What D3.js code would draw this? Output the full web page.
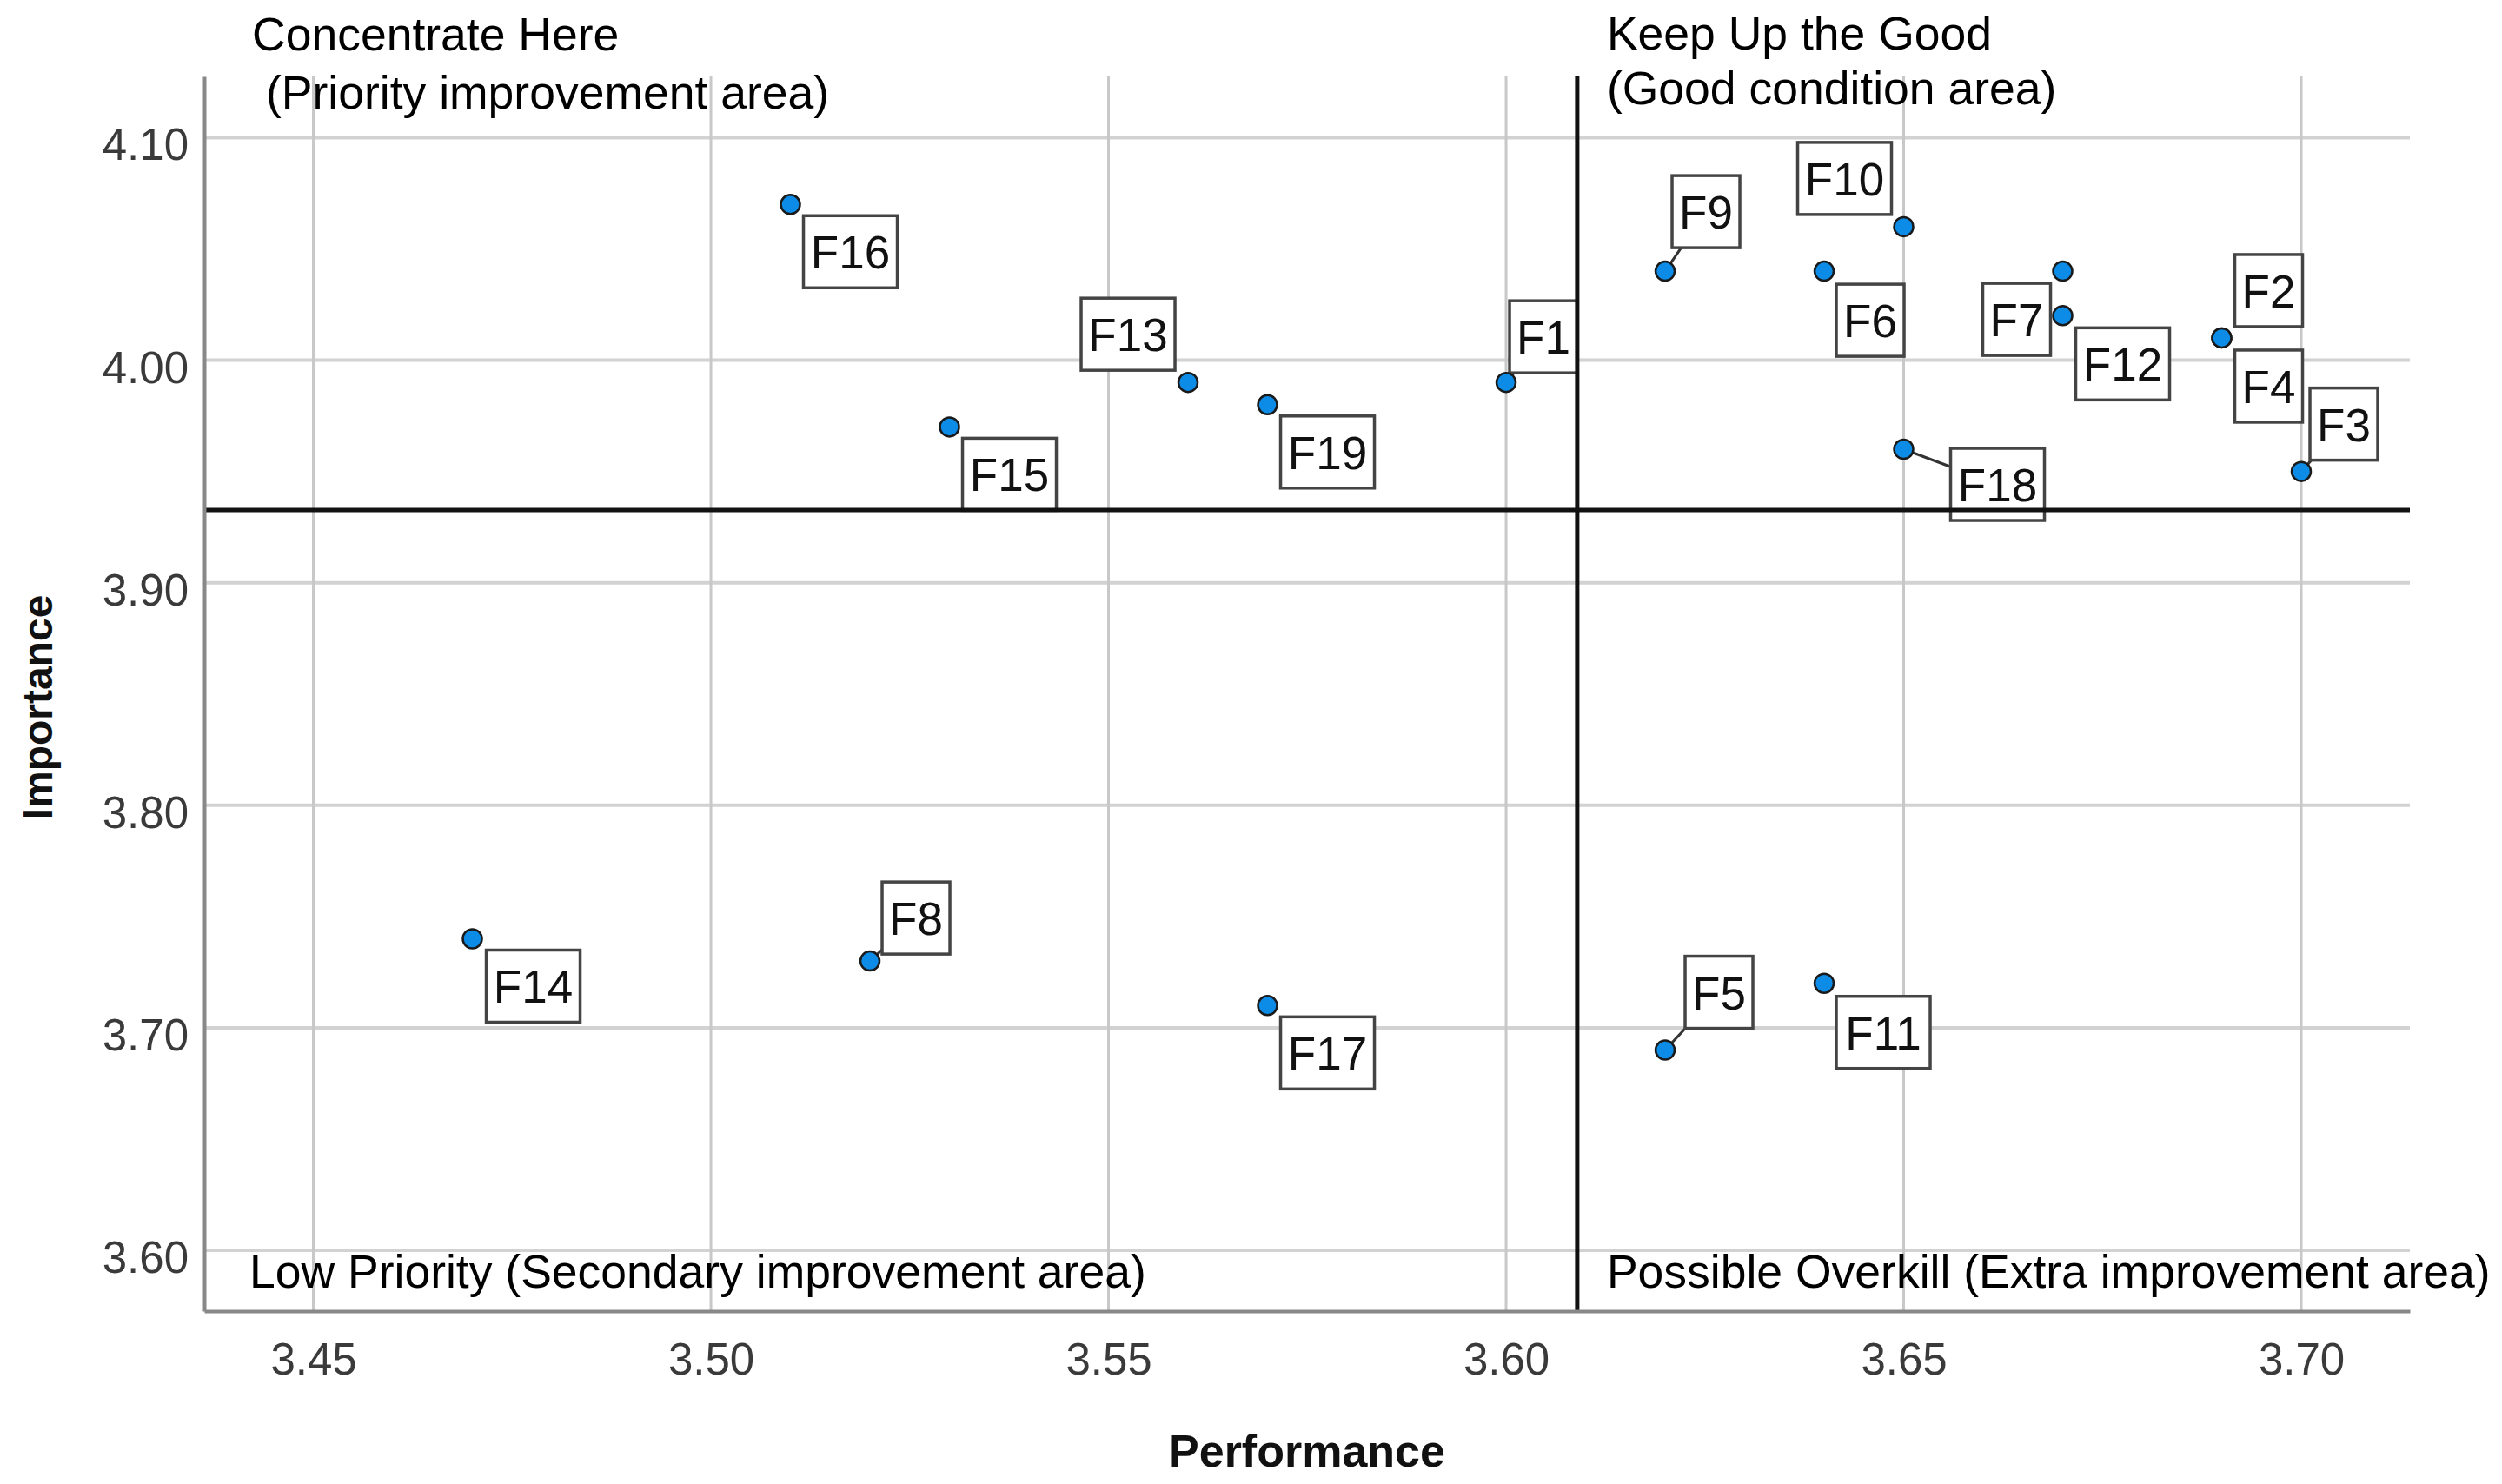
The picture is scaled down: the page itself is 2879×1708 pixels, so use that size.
<!DOCTYPE html>
<html>
<head>
<meta charset="utf-8">
<script src="https://cdn.jsdelivr.net/npm/d3@7"></script>
<style>
	body { margin: 0; background: #fff; }
	svg { display: block; font-family: "Liberation Sans", Arial, sans-serif; }
</style>
</head>
<body>
<div id="chart"></div>
<script>
// importance-performance quadrant chart

var names = ['F1','F2','F3','F4','F5','F6','F7','F8','F9','F10','F11','F12','F13','F14','F15','F16','F17','F18','F19'];
var performance = [3.60, 3.69, 3.70, 3.69, 3.62, 3.64, 3.67, 3.52, 3.62, 3.65, 3.64, 3.67, 3.56, 3.47, 3.53, 3.51, 3.57, 3.65, 3.57];
var importance  = [3.99, 4.01, 3.95, 4.01, 3.69, 4.04, 4.04, 3.73, 4.04, 4.06, 3.72, 4.02, 3.99, 3.74, 3.97, 4.07, 3.71, 3.96, 3.98];

var xTicks = [3.45, 3.50, 3.55, 3.60, 3.65, 3.70];
var yTicks = [3.60, 3.70, 3.80, 3.90, 4.00, 4.10];

var xTitle = 'Performance';
var yTitle = 'Importance';
var quadrantTopLeft = ['Concentrate Here', '(Priority improvement area)'];
var quadrantTopRight = ['Keep Up the Good', '(Good condition area)'];
var quadrantBottomLeft = 'Low Priority (Secondary improvement area)';
var quadrantBottomRight = 'Possible Overkill (Extra improvement area)';

// where each label box sits, relative to its point (px, top-left corner of box)
var labelPlacement = {
	F1: [4, -94, true], F2: [15, -96], F3: [10, -96, true], F4: [15, 14],
	F5: [23, -108, true], F6: [14, 15], F7: [-92, 14], F8: [14, -91, true],
	F9: [8, -110, true], F10: [-122, -97], F11: [14, 15], F12: [15, 14],
	F13: [-123, -97], F14: [16, 13], F15: [15, 13], F16: [15, 13],
	F17: [15, 13], F18: [54, -1, true], F19: [15, 13]
};

var width = 2879, height = 1708;
var plotLeft = 235, plotRight = 2773, plotTop = 88, plotBottom = 1509;
var fontSize = 51;
var captionSize = 53.5;

var x = d3.scaleLinear().domain([3.43628, 3.71366]).range([plotLeft, plotRight]);
var y = d3.scaleLinear().domain([3.5727, 4.1275]).range([plotBottom, plotTop]);

var points = names.map(function(n, i) { return { name: n, px: performance[i], py: importance[i] }; });
var meanX = d3.mean(performance);
var meanY = d3.mean(importance);

var svg = d3.select('#chart').append('svg')
	.attr('width', width)
	.attr('height', height);

// grid
svg.append('g').selectAll('line')
	.data(yTicks)
	.enter().append('line')
		.attr('x1', plotLeft).attr('x2', plotRight)
		.attr('y1', function(d) { return y(d); })
		.attr('y2', function(d) { return y(d); })
		.attr('stroke', '#d2d2d2')
		.attr('stroke-width', 4);
svg.append('g').selectAll('line')
	.data(xTicks)
	.enter().append('line')
		.attr('y1', plotTop).attr('y2', plotBottom)
		.attr('x1', function(d) { return x(d); })
		.attr('x2', function(d) { return x(d); })
		.attr('stroke', '#c8c8c8')
		.attr('stroke-width', 3);

// quadrant captions
var caption = svg.append('g')
	.attr('font-size', captionSize)
	.attr('fill', '#000');
caption.append('text').attr('x', plotLeft + 55).attr('y', 58).text(quadrantTopLeft[0]);
caption.append('text').attr('x', plotLeft + 71).attr('y', 125).text(quadrantTopLeft[1]);
caption.append('text').attr('x', x(meanX) + 34).attr('y', 57).text(quadrantTopRight[0]);
caption.append('text').attr('x', x(meanX) + 34).attr('y', 120).text(quadrantTopRight[1]);
caption.append('text').attr('x', plotLeft + 52).attr('y', 1482).text(quadrantBottomLeft);
caption.append('text').attr('x', x(meanX) + 34).attr('y', 1482).text(quadrantBottomRight);

// label boxes
var boxH = 83;
var boxW = function(n) { return n.length > 2 ? 108 : 78; };
var labels = svg.append('g');
points.forEach(function(d)
{
	var p = labelPlacement[d.name];
	var cx = x(d.px), cy = y(d.py);
	var bx = cx + p[0], by = cy + p[1], bw = boxW(d.name);
	if (p[2])
	{
		// leader aimed at the box centre, stopped at the box edge
		var dx = bx + bw / 2 - cx, dy = by + boxH / 2 - cy;
		var tx = ((dx > 0 ? bx : bx + bw) - cx) / dx;
		var ty = ((dy > 0 ? by : by + boxH) - cy) / dy;
		var t = Math.max(tx, ty);
		labels.append('line')
			.attr('x1', cx).attr('y1', cy)
			.attr('x2', cx + t * dx).attr('y2', cy + t * dy)
			.attr('stroke', '#333')
			.attr('stroke-width', 3);
	}
	labels.append('rect')
		.attr('x', bx).attr('y', by)
		.attr('width', bw).attr('height', boxH)
		.attr('fill', '#fff')
		.attr('stroke', '#444')
		.attr('stroke-width', 3.5);
	labels.append('text')
		.attr('x', bx + bw / 2)
		.attr('y', by + 61)
		.attr('text-anchor', 'middle')
		.attr('font-size', fontSize + 2)
		.attr('fill', '#111')
		.text(d.name);
});

// reference lines at the means
svg.append('line')
	.attr('x1', x(meanX)).attr('x2', x(meanX))
	.attr('y1', plotTop).attr('y2', plotBottom)
	.attr('stroke', '#111').attr('stroke-width', 5);
svg.append('line')
	.attr('x1', plotLeft).attr('x2', plotRight)
	.attr('y1', y(meanY)).attr('y2', y(meanY))
	.attr('stroke', '#111').attr('stroke-width', 5);

// points
svg.append('g').selectAll('circle')
	.data(points)
	.enter().append('circle')
		.attr('cx', function(d) { return x(d.px); })
		.attr('cy', function(d) { return y(d.py); })
		.attr('r', 11)
		.attr('fill', '#0c8ce6')
		.attr('stroke', '#1a1a1a')
		.attr('stroke-width', 2.5);

// axes
var yAxis = svg.append('g')
	.attr('transform', 'translate(' + plotLeft + ',0)')
	.call(d3.axisLeft(y).tickValues(yTicks).tickSize(0).tickPadding(18).tickFormat(d3.format('.2f')));
var xAxis = svg.append('g')
	.attr('transform', 'translate(0,' + plotBottom + ')')
	.call(d3.axisBottom(x).tickValues(xTicks).tickSize(0).tickPadding(37).tickFormat(d3.format('.2f')));
[yAxis, xAxis].forEach(function(a)
{
	a.select('.domain').attr('stroke', '#888').attr('stroke-width', 4);
	a.selectAll('text')
		.attr('font-size', fontSize)
		.attr('font-family', '"Liberation Sans", Arial, sans-serif')
		.attr('fill', '#3a3a3a');
});
yAxis.selectAll('text').attr('dy', '0.5em');

// axis titles
svg.append('text')
	.attr('x', (plotLeft + plotRight) / 2)
	.attr('y', 1688)
	.attr('text-anchor', 'middle')
	.attr('font-size', 52)
	.attr('font-weight', 'bold')
	.attr('fill', '#111')
	.text(xTitle);
svg.append('text')
	.attr('transform', 'translate(60,814) rotate(-90)')
	.attr('text-anchor', 'middle')
	.attr('font-size', 48)
	.attr('font-weight', 'bold')
	.attr('fill', '#111')
	.text(yTitle);
</script>
</body>
</html>
